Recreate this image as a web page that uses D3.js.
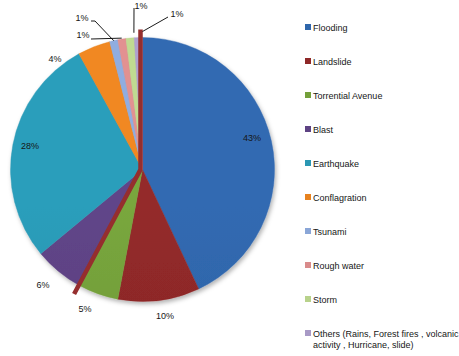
<!DOCTYPE html>
<html>
<head>
<meta charset="utf-8">
<script src="https://cdn.jsdelivr.net/npm/d3@7"></script>
<style>
  html, body { margin: 0; padding: 0; background: #fff; }
  svg { display: block; }
  text { font-family: "Liberation Sans", Arial, sans-serif; fill: #161616; }
</style>
</head>
<body>
<svg id="chart" width="459" height="356"></svg>
<script>
// Share of disaster types (percent)
const categories = [
  "Flooding", "Landslide", "Torrential Avenue", "Blast", "Earthquake",
  "Conflagration", "Tsunami", "Rough water", "Storm",
  "Others (Rains, Forest fires , volcanic activity , Hurricane, slide)"
];
const shares = [43, 10, 5, 6, 28, 4, 1, 1, 1, 1];
const sliceColors = [
  "#2f66ab", "#8e2828", "#74a03a", "#5d4283", "#2a97b3",
  "#e7821f", "#8aa6d7", "#d98b8b", "#b8d28b", "#a89ac6"
];

// Label placement (text centre) and leader-line settings per slice
const labelPos = [
  [252, 138], [165, 316], [85, 309], [43, 285], [30, 146],
  [55, 59], [82, 18], [83, 35], [141, 5.5], [177, 14]
];
// leaders: [startX, startY, elbowDx, anchor fraction within slice, radial offset]
const leaders = {
  6: [91, 21, 4, 0.5, 0],
  7: [91, 39, 0, 0.5, 1],
  8: [134, 8, 0, 1.0, 5],
  9: [168, 17, 0, 1.0, 6]
};

const svg = d3.select("#chart");
const cx = 142.5, cy = 169.5, R = 132;

const defs = svg.append("defs");
const shadow = defs.append("filter").attr("id", "pieShadow")
  .attr("x", "-10%").attr("y", "-10%").attr("width", "125%").attr("height", "125%");
shadow.append("feDropShadow")
  .attr("dx", 1.5).attr("dy", 2.5).attr("stdDeviation", 2)
  .attr("flood-color", "#000").attr("flood-opacity", 0.3);

// Vertical light-to-dark gradient for every slice colour
sliceColors.forEach((c, i) => {
  const g = defs.append("linearGradient").attr("id", "grad" + i)
    .attr("gradientUnits", "userSpaceOnUse")
    .attr("x1", 0).attr("x2", 0).attr("y1", cy - R).attr("y2", cy + R);
  g.append("stop").attr("offset", "0%").attr("stop-color", d3.color(c).brighter(0.12));
  g.append("stop").attr("offset", "100%").attr("stop-color", d3.color(c).darker(0.22));
});

const pie = d3.pie().value(d => d).sort(null);
const arcs = pie(shares);
const arc = d3.arc().innerRadius(0).outerRadius(R);

const pieG = svg.append("g").attr("transform", `translate(${cx},${cy})`);
const slices = pieG.append("g").attr("filter", "url(#pieShadow)");
slices.selectAll("path").data(arcs).join("path")
  .attr("d", arc)
  .attr("fill", (d, i) => `url(#grad${i})`)
  .attr("stroke", (d, i) => sliceColors[i])
  .attr("stroke-width", 0.4);

// Dark red separator strokes along two slice edges
const sepColor = "#952e2e";
const polar = (a, r) => [r * Math.sin(a), -r * Math.cos(a)];
const topEnd = polar(arcs[0].startAngle, R + 8);
const lowEnd = polar(arcs[2].endAngle, R + 10);
pieG.append("path")
  .attr("d", `M${topEnd[0] - 2},${topEnd[1]}L${-2},0L${lowEnd[0]},${lowEnd[1]}`)
  .attr("fill", "none")
  .attr("stroke", sepColor)
  .attr("stroke-width", 4.5)
  .attr("stroke-linejoin", "miter");

// Leader lines for the small slices
Object.entries(leaders).forEach(([k, L]) => {
  const a = arcs[+k];
  const ang = a.startAngle + (a.endAngle - a.startAngle) * L[3];
  const p = polar(ang, R + L[4]);
  const ex = cx + p[0], ey = cy + p[1];
  const pts = [[L[0], L[1]], [L[0] + L[2], L[1]], [ex, ey]];
  svg.append("path")
    .attr("d", d3.line()(pts))
    .attr("fill", "none")
    .attr("stroke", "#000")
    .attr("stroke-width", 0.9);
});

// Percentage labels
svg.append("g").selectAll("text").data(arcs).join("text")
  .attr("x", (d, i) => labelPos[i][0])
  .attr("y", (d, i) => labelPos[i][1])
  .attr("dy", "0.35em")
  .attr("text-anchor", "middle")
  .attr("font-size", 9)
  .text(d => d.data + "%");

// Legend
const legend = svg.append("g");
const rowGap = 34, legTop = 30.5, legX = 305, maxW = 146;
categories.forEach((name, i) => {
  const y = legTop + i * rowGap;
  legend.append("rect")
    .attr("x", legX).attr("y", y - 6.5).attr("width", 6).attr("height", 6)
    .attr("fill", sliceColors[i]);
  const t = legend.append("text")
    .attr("x", legX + 8).attr("y", y)
    .attr("font-size", 9);
  // simple word wrap
  const words = name.split(" ");
  let line = [];
  let tspan = t.append("tspan").attr("x", legX + 8).attr("dy", 0);
  words.forEach(w => {
    line.push(w);
    tspan.text(line.join(" "));
    if (tspan.node().getComputedTextLength() > maxW && line.length > 1) {
      line.pop();
      tspan.text(line.join(" "));
      line = [w];
      tspan = t.append("tspan").attr("x", legX + 8).attr("dy", 11).text(w);
    }
  });
});
</script>
</body>
</html>
